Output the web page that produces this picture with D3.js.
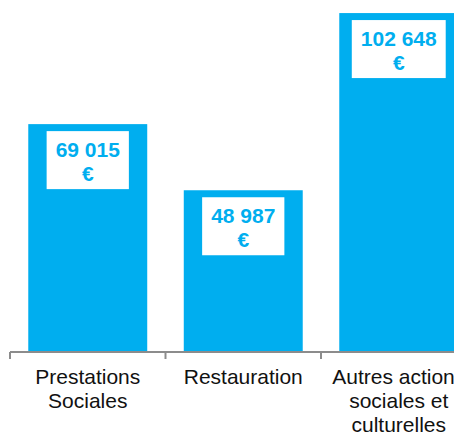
<!DOCTYPE html>
<html>
<head>
<meta charset="utf-8">
<script src="https://cdn.jsdelivr.net/npm/d3@7"></script>
<style>
  html, body { margin: 0; padding: 0; background: #fff; overflow: hidden; }
  svg { display: block; }
</style>
</head>
<body>
<svg id="chart" width="454" height="433"></svg>
<script>
// Budget by category (euros)
const categories = ["Prestations Sociales", "Restauration", "Autres actions sociales et culturelles"];
const values = [69015, 48987, 102648];
const tickLabels = [
  ["Prestations", "Sociales"],
  ["Restauration"],
  ["Autres actions", "sociales et", "culturelles"]
];

const barColor = "#00AEEF";
const axisColor = "#8C8C8C";

const svg = d3.select("#chart");
const baseline = 352;

// The plot runs past the right edge of the window, so the last bar is cut off
const x = d3.scaleBand()
  .domain(categories)
  .range([10, 476.5])
  .paddingInner(0.235)
  .paddingOuter(0.1175);

const y = d3.scaleLinear()
  .domain([0, 106000])
  .range([baseline, 2]);

const fmt = v => d3.format(",")(v).replace(/,/g, " ");

// Bars
svg.append("g")
  .selectAll("rect")
  .data(values)
  .join("rect")
  .attr("x", (d, i) => x(categories[i]))
  .attr("y", d => y(d))
  .attr("width", x.bandwidth())
  .attr("height", d => baseline - y(d))
  .attr("fill", barColor);

// Value labels in white boxes near the top of each bar
const labels = svg.append("g")
  .selectAll("g")
  .data(values)
  .join("g")
  .attr("transform", (d, i) => `translate(${x(categories[i]) + x.bandwidth() / 2},${y(d) + 7})`);

const boxes = labels.append("rect").attr("fill", "#fff");

const txt = labels.append("text")
  .attr("text-anchor", "middle")
  .attr("font-family", "Liberation Sans, Arial, sans-serif")
  .attr("font-weight", "bold")
  .attr("font-size", 21)
  .attr("fill", barColor);
txt.append("tspan").attr("x", 0).attr("y", 26).text(d => fmt(d));
txt.append("tspan").attr("x", 0).attr("y", 49.5).text("€");

txt.each(function () {
  const w = this.querySelector("tspan").getComputedTextLength();
  d3.select(this.parentNode).select("rect")
    .attr("x", -w / 2 - 9)
    .attr("y", 0)
    .attr("width", w + 18)
    .attr("height", 58);
});

// Category axis with ticks at band boundaries
const axis = svg.append("g");
axis.append("line")
  .attr("x1", 10).attr("x2", 476.5)
  .attr("y1", baseline).attr("y2", baseline)
  .attr("stroke", axisColor).attr("stroke-width", 2);

const step = x.step();
axis.selectAll("line.tick")
  .data(d3.range(categories.length + 1))
  .join("line")
  .attr("class", "tick")
  .attr("x1", i => 10 + i * step)
  .attr("x2", i => 10 + i * step)
  .attr("y1", baseline)
  .attr("y2", baseline + 7)
  .attr("stroke", axisColor).attr("stroke-width", 2);

const catText = axis.selectAll("text")
  .data(tickLabels)
  .join("text")
  .attr("text-anchor", "middle")
  .attr("font-family", "Liberation Sans, Arial, sans-serif")
  .attr("font-size", 21)
  .attr("fill", "#111")
  .attr("transform", (d, i) => `translate(${x(categories[i]) + x.bandwidth() / 2},0)`);

catText.selectAll("tspan")
  .data(d => d)
  .join("tspan")
  .attr("x", 0)
  .attr("y", (d, j) => 384 + j * 23.8)
  .text(d => d);
</script>
</body>
</html>
